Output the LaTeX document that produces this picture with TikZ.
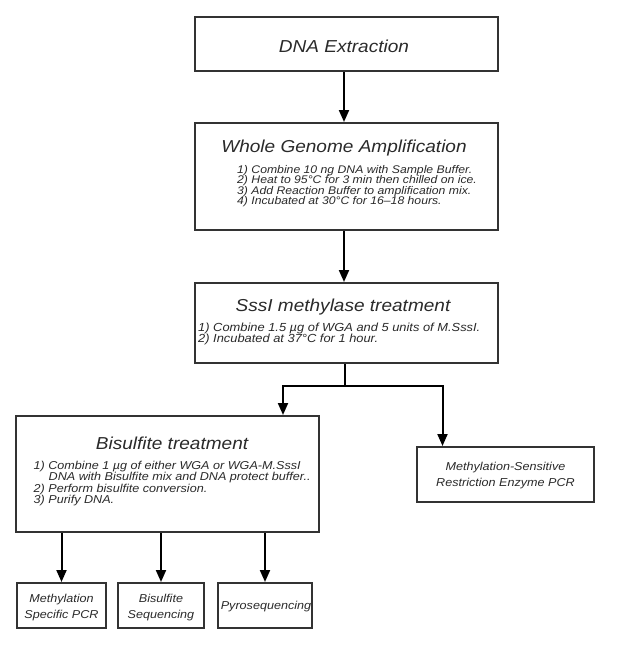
\documentclass[tikz,border=0pt]{standalone}
\usepackage{fontspec}
\setmainfont[FakeStretch=1.1]{Liberation Sans}
\usetikzlibrary{arrows.meta}
\definecolor{boxgray}{HTML}{333333}
\definecolor{txtgray}{HTML}{2A2A2A}
\newcommand{\tightlines}{\lineskiplimit=-20pt\lineskip=0pt\relax}
\newcommand{\ttlfnt}{\fontsize{17.3}{20}\selectfont\itshape}
\newcommand{\bdyfntA}{\fontsize{11.1}{10.4}\selectfont\itshape\tightlines}
\newcommand{\bdyfntB}{\fontsize{11.7}{11}\selectfont\itshape\tightlines}
\newcommand{\bdyfntC}{\fontsize{11.45}{11.3}\selectfont\itshape\tightlines}
\newcommand{\smfnt}{\fontsize{11.45}{16.3}\selectfont\itshape\tightlines}
\tikzset{
  box/.style={draw=boxgray, line width=2pt, rectangle, inner sep=0pt, fill=white},
  arr/.style={draw=black, line width=2pt, -{Triangle[width=10pt,length=12pt]}},
  ttl/.style={font=\ttlfnt, text=txtgray, inner sep=0pt, anchor=base},
  bdyA/.style={font=\bdyfntA, text=txtgray, inner sep=0pt, anchor=north west, align=left},
  bdyB/.style={font=\bdyfntB, text=txtgray, inner sep=0pt, anchor=north west, align=left},
  bdyC/.style={font=\bdyfntC, text=txtgray, inner sep=0pt, anchor=north west, align=left},
  sml/.style={font=\smfnt, text=txtgray, inner sep=0pt, anchor=north, align=center},
}
\begin{document}
\begin{tikzpicture}[x=1pt,y=-1pt]
\useasboundingbox (0,0) rectangle (621,656);
\fill[white] (0,0) rectangle (621,656);

% boxes
\node[box, minimum width=303pt, minimum height=54pt] (b1) at (346.5,44) {};
\node[box, minimum width=303pt, minimum height=107pt] (b2) at (346.5,176.5) {};
\node[box, minimum width=303pt, minimum height=80pt] (b3) at (346.5,323) {};
\node[box, minimum width=303pt, minimum height=116pt] (b4) at (167.5,474) {};
\node[box, minimum width=177pt, minimum height=55pt] (b5) at (505.5,474.5) {};
\node[box, minimum width=89pt, minimum height=45pt] (bA) at (61.5,605.5) {};
\node[box, minimum width=86pt, minimum height=45pt] (bB) at (161,605.5) {};
\node[box, minimum width=94pt, minimum height=45pt] (bC) at (265,605.5) {};

% texts
\node[ttl] (t1) at (344,52) {DNA Extraction};

\node[ttl] (t2) at (344,152.5) {Whole Genome Amplification};
\node[bdyA] (t2x) at (237,165.2) {1) Combine 10 ng DNA with Sample Buffer.\\
2) Heat to 95°C for 3 min then chilled on ice.\\
3) Add Reaction Buffer to amplification mix.\\
4) Incubated at 30°C for 16–18 hours.};

\node[ttl] (t3) at (343,311.7) {SssI methylase treatment};
\node[bdyB] (t3x) at (198,322.8) {1) Combine 1.5 µg of WGA and 5 units of M.SssI.\\
2) Incubated at 37°C for 1 hour.};

\node[ttl] (t4) at (172,449.3) {Bisulfite treatment};
\node[bdyC] (t4x) at (33.5,460.9) {1) Combine 1 µg of either WGA or WGA-M.SssI\\
\hspace*{15pt}DNA with Bisulfite mix and DNA protect buffer..\\
2) Perform bisulfite conversion.\\
3) Purify DNA.};

\node[sml] (t5) at (505.5,462.1) {Methylation-Sensitive\\Restriction Enzyme PCR};

\node[sml] (tA) at (61.5,593.6) {Methylation\\Specific PCR};
\node[sml] (tB) at (161,593.6) {Bisulfite\\Sequencing};
\node[sml, anchor=base] (tC) at (266,609.5) {Pyrosequencing};

% connectors
\draw[arr] ([xshift=-2.5pt]b1.south) -- ([xshift=-2.5pt]b2.north);
\draw[arr] ([xshift=-2.5pt]b2.south) -- ([xshift=-2.5pt]b3.north);
\coordinate (split) at (345,385.5);
\coordinate (e4) at (b4.north -| 283,0);
\coordinate (e5) at (b5.north -| 442.5,0);
\draw[arr] (b3.south -| split) -- (split) -| (e4);
\draw[arr] (split) -| (e5);
\draw[arr] (bA.north |- b4.south) -- (bA.north);
\draw[arr] (bB.north |- b4.south) -- (bB.north);
\draw[arr] (bC.north |- b4.south) -- (bC.north);
\end{tikzpicture}
\end{document}
